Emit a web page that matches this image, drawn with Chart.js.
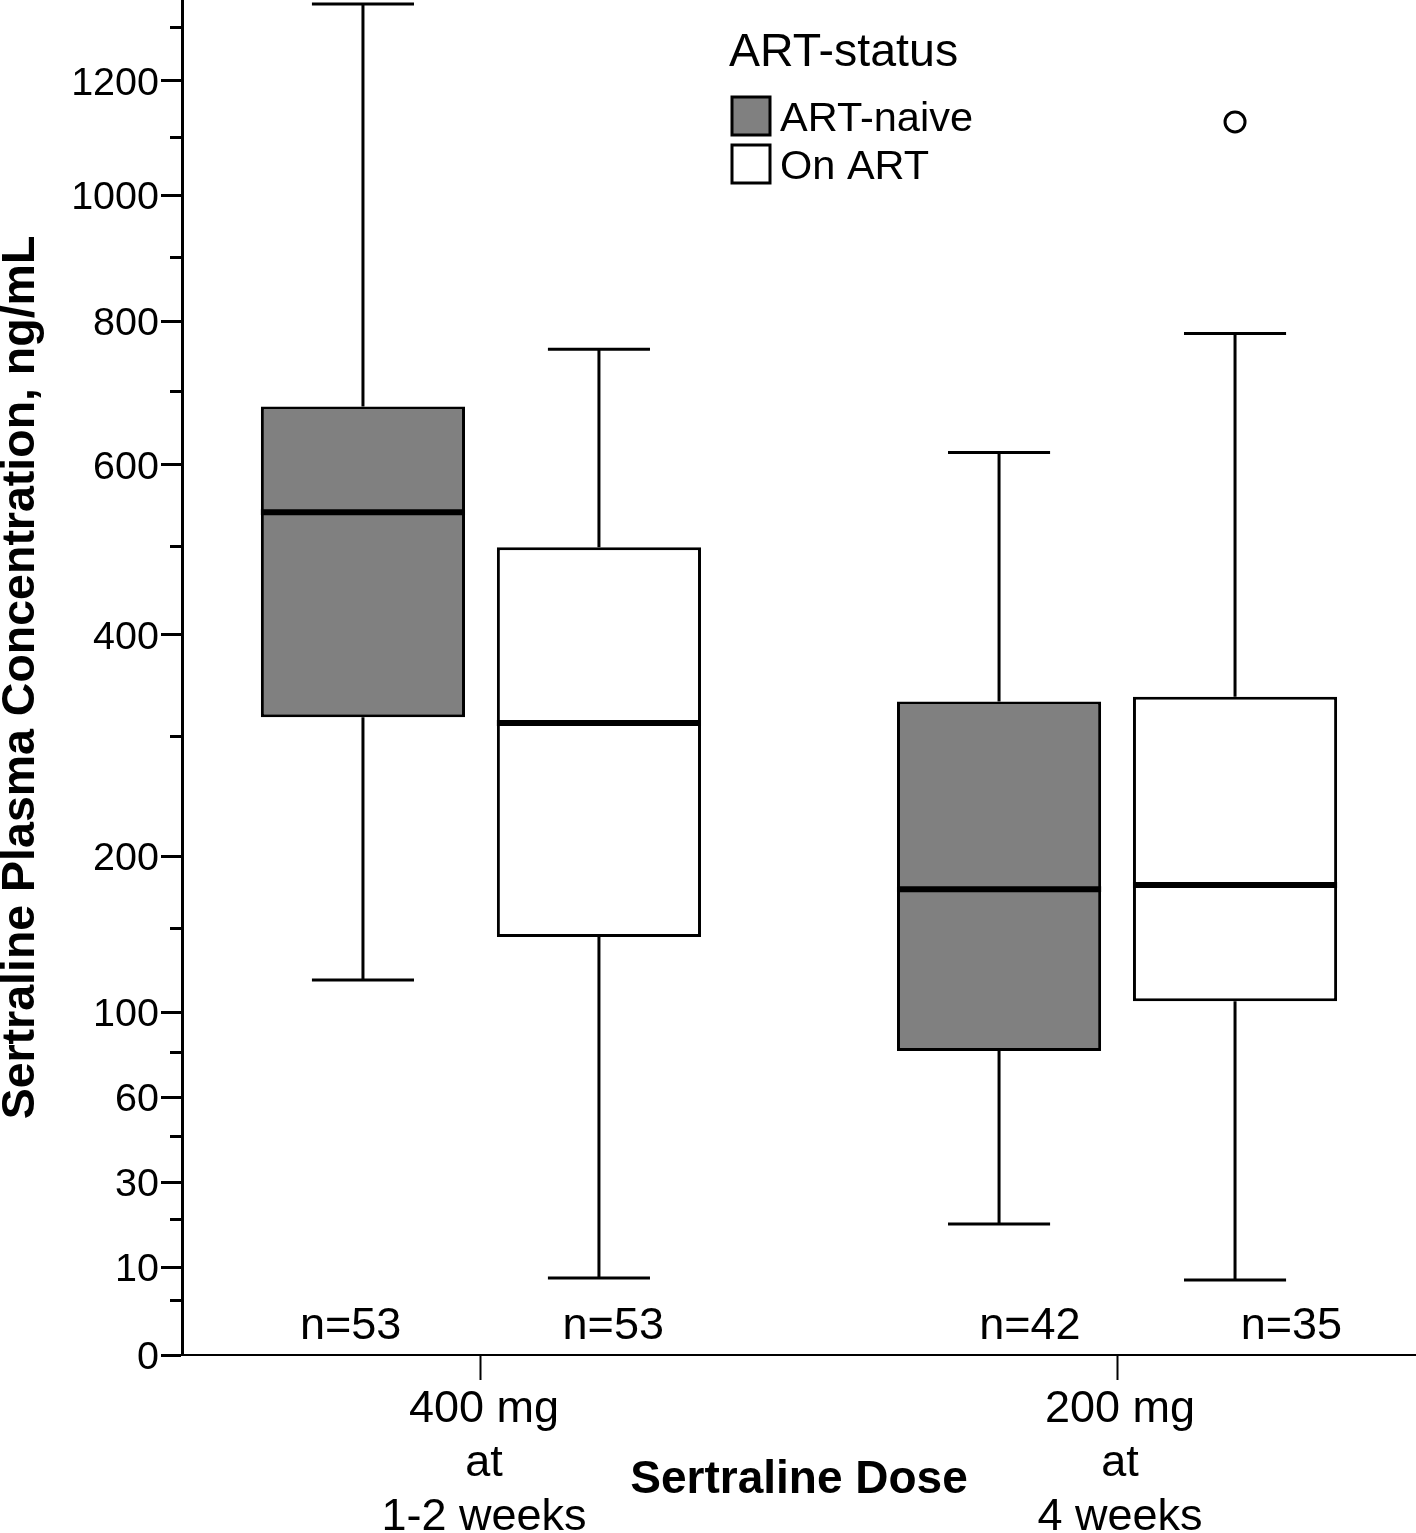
<!DOCTYPE html>
<html>
<head>
<meta charset="utf-8">
<script src="https://cdn.jsdelivr.net/npm/chart.js@4.4.1/dist/chart.umd.min.js"></script>
<style>
  html, body { margin: 0; padding: 0; background: #ffffff; }
  #wrap { width: 1416px; height: 1533px; position: relative; }
</style>
</head>
<body>
<div id="wrap"><canvas id="c"></canvas></div>
<script>
// ---------------- DATA ----------------
const categories = [['400 mg', 'at', '1-2 weeks'], ['200 mg', 'at', '4 weeks']];
const seriesNames = ['ART-naive', 'On ART'];

const naiveMin    = [118, 18.9];
const naiveQ1     = [317.5, 80.6];
const naiveMedian = [540, 176];
const naiveQ3     = [678, 332.5];
const naiveMax    = [1345, 616];
const naiveOutliers = [[], []];
const naiveN      = [53, 42];

const onArtMin    = [8.2, 7.9];
const onArtQ1     = [144, 106];
const onArtMedian = [312, 179];
const onArtQ3     = [498, 337];
const onArtMax    = [759, 782];
const onArtOutliers = [[], [1126]];
const onArtN      = [53, 35];

const yTickValues      = [0, 10, 30, 60, 100, 200, 400, 600, 800, 1000, 1200];
const yMinorTickValues = [5, 20, 45, 80, 150, 300, 500, 700, 900, 1100, 1300];

const legendTitle = 'ART-status';
const xTitle = 'Sertraline Dose';
const yTitle = 'Sertraline Plasma Concentration, ng/mL';

// ---------------- STYLE / LAYOUT ----------------
const FONT = "'Liberation Sans', Arial, Helvetica, sans-serif";
const seriesFill = ['#808080', '#ffffff'];
const nLabelOffsets = [[-0.205, 0.863], [0.208, 1.274]]; // x positions (axis units) of n= labels

// square-root (x+1) scale
class SqrtScale extends Chart.LinearScale {
  static id = 'sqrtp1';
  static defaults = Chart.LinearScale.defaults;
  _t(v) { return Math.sqrt(Math.max(v, 0) + 1); }
  getPixelForValue(value) {
    const a = this._t(this.min), b = this._t(this.max);
    return this.getPixelForDecimal((this._t(value) - a) / (b - a));
  }
  getValueForPixel(pixel) {
    const a = this._t(this.min), b = this._t(this.max);
    const s = a + this.getDecimalForPixel(pixel) * (b - a);
    return s * s - 1;
  }
}
Chart.register(SqrtScale);

Chart.defaults.font.family = FONT;
Chart.defaults.color = '#000';

const stats = [
  { min: naiveMin, q1: naiveQ1, med: naiveMedian, q3: naiveQ3, max: naiveMax, out: naiveOutliers, n: naiveN },
  { min: onArtMin, q1: onArtQ1, med: onArtMedian, q3: onArtQ3, max: onArtMax, out: onArtOutliers, n: onArtN }
];

const datasets = stats.map((s, i) => ({
  label: seriesNames[i],
  data: categories.map((c, j) => ({ x: j, y: [s.q1[j], s.q3[j]] })),
  backgroundColor: seriesFill[i],
  borderColor: '#000',
  borderWidth: 3,
  borderSkipped: false,
  categoryPercentage: 0.742,
  barPercentage: 0.865
}));

const boxPlugin = {
  id: 'boxParts',
  afterDatasetsDraw(chart) {
    const ctx = chart.ctx;
    const ys = chart.scales.y, xs = chart.scales.x;
    ctx.save();
    ctx.strokeStyle = '#000';
    ctx.lineCap = 'butt';
    stats.forEach((s, i) => {
      const meta = chart.getDatasetMeta(i);
      meta.data.forEach((bar, j) => {
        const cx = bar.x, w = bar.width;
        const yq1 = ys.getPixelForValue(s.q1[j]);
        const yq3 = ys.getPixelForValue(s.q3[j]);
        const yMin = ys.getPixelForValue(s.min[j]);
        const yMax = ys.getPixelForValue(s.max[j]);
        ctx.lineWidth = 3;
        ctx.beginPath();
        ctx.moveTo(cx, yq3); ctx.lineTo(cx, yMax);
        ctx.moveTo(cx - w / 4, yMax); ctx.lineTo(cx + w / 4, yMax);
        ctx.moveTo(cx, yq1); ctx.lineTo(cx, yMin);
        ctx.moveTo(cx - w / 4, yMin); ctx.lineTo(cx + w / 4, yMin);
        ctx.stroke();
        // median
        const ym = ys.getPixelForValue(s.med[j]);
        ctx.lineWidth = 6;
        ctx.beginPath();
        ctx.moveTo(cx - w / 2, ym); ctx.lineTo(cx + w / 2, ym);
        ctx.stroke();
        // outliers
        ctx.lineWidth = 3;
        s.out[j].forEach(v => {
          ctx.beginPath();
          ctx.arc(cx, ys.getPixelForValue(v), 10, 0, Math.PI * 2);
          ctx.fillStyle = '#fff';
          ctx.fill();
          ctx.stroke();
        });
        // n labels
        ctx.fillStyle = '#000';
        ctx.font = '45px ' + FONT;
        ctx.textAlign = 'center';
        ctx.textBaseline = 'alphabetic';
        ctx.fillText('n=' + s.n[j], xs.getPixelForValue(nLabelOffsets[i][j]), chart.chartArea.bottom - 16);
      });
    });
    ctx.restore();
  },
  afterDraw(chart) {
    const ctx = chart.ctx;
    const ys = chart.scales.y;
    const area = chart.chartArea;
    ctx.save();
    // minor ticks
    ctx.strokeStyle = '#000';
    ctx.lineWidth = 3;
    ctx.beginPath();
    yMinorTickValues.forEach(v => {
      const p = Math.round(ys.getPixelForValue(v)) + 0.5;
      if (p < area.top - 1) return;
      ctx.moveTo(area.left - 12, p); ctx.lineTo(area.left, p);
    });
    ctx.stroke();
    // legend
    const lx = area.left + 550, ly = area.top;
    ctx.fillStyle = '#000';
    ctx.textAlign = 'left';
    ctx.textBaseline = 'alphabetic';
    ctx.font = '46.5px ' + FONT;
    ctx.fillText(legendTitle, lx - 3, ly + 66);
    ctx.font = '41.5px ' + FONT;
    chart.data.datasets.forEach((d, i) => {
      const top = ly + 97 + i * 48;
      ctx.fillStyle = d.backgroundColor;
      ctx.fillRect(lx, top, 38, 38);
      ctx.lineWidth = 3;
      ctx.strokeStyle = '#000';
      ctx.strokeRect(lx, top, 38, 38);
      ctx.fillStyle = '#000';
      ctx.fillText(d.label, lx + 48, top + 34);
    });
    ctx.restore();
  }
};

new Chart(document.getElementById('c'), {
  type: 'bar',
  data: { datasets },
  options: {
    responsive: true,
    maintainAspectRatio: false,
    devicePixelRatio: 1,
    animation: false,
    layout: { padding: 0 },
    plugins: { legend: { display: false }, tooltip: { enabled: false } },
    scales: {
      x: {
        type: 'linear',
        min: -0.47,
        max: 1.47,
        offset: false,
        grid: { offset: false, drawOnChartArea: false, drawTicks: true, tickLength: 25, tickWidth: 2, tickColor: '#000' },
        border: { display: true, color: '#000', width: 2 },
        afterBuildTicks: (scale) => { scale.ticks = categories.map((c, j) => ({ value: j })); },
        ticks: {
          callback: (v) => categories[v],
          font: { size: 45, family: FONT, lineHeight: 1.2 },
          color: '#000',
          padding: 3,
          labelOffset: 3,
          maxRotation: 0,
          autoSkip: false
        },
        title: { display: true, text: xTitle, font: { size: 46, weight: 'bold', family: FONT, lineHeight: 1 }, color: '#000', padding: { top: 0, bottom: 30 } },
        afterFit: (scale) => { scale.height = 178; scale.paddingLeft = 0; scale.paddingRight = 0; }
      },
      y: {
        type: 'sqrtp1',
        min: 0,
        max: 1352.7,
        grid: { drawOnChartArea: false, drawTicks: true, tickLength: 21, tickWidth: 3, tickColor: '#000' },
        border: { display: true, color: '#000', width: 3 },
        afterBuildTicks: (scale) => { scale.ticks = yTickValues.map(v => ({ value: v })); },
        ticks: {
          callback: (v) => String(v),
          font: { size: 39.5, family: FONT },
          color: '#000',
          padding: 2,
          labelOffset: 3,
          autoSkip: false
        },
        title: { display: true, text: yTitle, font: { size: 46.5, weight: 'bold', family: FONT, lineHeight: 0.9 }, color: '#000', padding: 0 },
        afterFit: (scale) => { scale.width = 182; scale.paddingTop = 0; scale.paddingBottom = 0; }
      }
    }
  },
  plugins: [boxPlugin]
});
</script>
</body>
</html>
